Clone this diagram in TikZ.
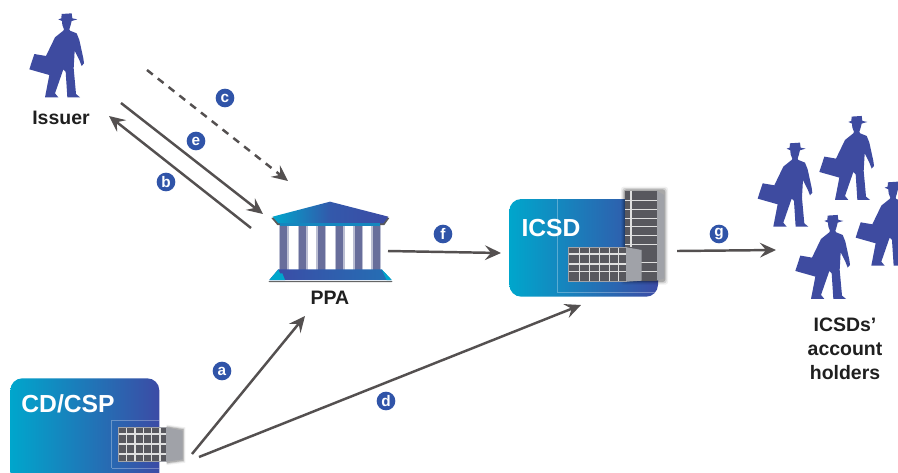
\documentclass[tikz,border=0pt]{standalone}
\usepackage{fontspec}
\setmainfont{Liberation Sans}
\usetikzlibrary{arrows.meta}
\definecolor{pblue}{RGB}{62,75,160}
\definecolor{bcyan}{RGB}{0,166,204}
\definecolor{bindigo}{RGB}{60,75,165}
\definecolor{badgeblue}{RGB}{48,84,168}
\definecolor{arrowgray}{RGB}{84,80,80}
\definecolor{wingray}{RGB}{88,88,94}
\definecolor{sidegray}{RGB}{160,162,168}
\definecolor{colgray}{RGB}{104,110,155}
\tikzset{
  link/.style={draw=arrowgray,line width=1.85pt,-{Stealth[length=12pt,width=11pt,inset=4.5pt]}},
  dashlink/.style={link,dash pattern=on 5.5pt off 4.8pt},
  badge/.style={circle,fill=badgeblue,text=white,font=\bfseries\fontsize{11.5}{11.5}\selectfont,inner sep=0pt,minimum size=14pt},
  lbl/.style={font=\bfseries\fontsize{14.6}{18}\selectfont,text=black!88,align=center,inner sep=0pt},
  cardlbl/.style={font=\bfseries\fontsize{18.5}{20}\selectfont,text=white,inner sep=0pt},
  card/.style={left color=bcyan,right color=bindigo,rounded corners=9pt},
  finegrid/.style={draw=white!75!gray,line width=.8pt},
  person/.pic={
    \fill[pblue,x=.25pt,y=-.25pt] (185,42)--(215,40)--(217,55)--(232,58)--(215,63)--(212,75)--(208,88)--(210,92)--(230,100)--(238,120)--(250,175)--(252,190)--(245,198)--(238,180)--(224,152)--(221,205)--(228,282)--(240,292)--(202,292)--(197,215)--(190,208)--(165,280)--(175,292)--(135,292)--(148,225)--(88,208)--(103,162)--(138,168)--(165,112)--(190,92)--(192,88)--(187,75)--(186,63)--(175,58)--(184,55)--cycle;
  }
}
\begin{document}
\begin{tikzpicture}[x=.75pt,y=-.75pt]
\useasboundingbox (0,0) rectangle (898,472);
\clip (0,0) rectangle (898,472);
\fill[white] (0,0) rectangle (898,472);

% people
\pic at (0,0) {person};
\pic at (728.3,129.3) {person};
\pic at (790,102.6) {person};
\pic at (826.3,168.3) {person};
\pic at (766,201.6) {person};
\node[lbl] (issuer) at (61,118) {Issuer};
\node[lbl] (holders) at (845,349) {ICSDs’\\account\\holders};

% PPA
\begin{scope}[shift={(250,170)},x=.25pt,y=-.25pt]
  \foreach \cx in {90,147,203,258,314,368}{
    \fill[colgray!45] (\cx-4,160) rectangle (\cx+26,300);
    \fill[colgray] (\cx,160) rectangle (\cx+22,300);
  }
  \fill[black!65] (64,144)--(240,99)--(418,144)--(403,165)--(82,165)--cycle;
  \shade[left color=bcyan,right color=bindigo,middle color=bindigo!85!bcyan] (68,140)--(240,95)--(415,140)--(400,160)--(85,160)--cycle;
  \fill[bcyan!65!bindigo] (90,158) rectangle (390,167);
  \fill[black!60] (55,333)--(428,333)--(425,336)--(58,336)--cycle;
  \shade[left color=bindigo,right color=bindigo!60!bcyan] (85,298)--(395,298)--(425,330)--(58,330)--cycle;
  \fill[bcyan] (85,298)--(90,310)--(97,310)--(105,330)--(58,330)--cycle;
  \fill[bcyan] (395,298)--(425,330)--(410,330)--cycle;
\end{scope}
\node[lbl] (ppa) at (330,298) {PPA};

% ICSD
\shade[card] (509.3,199) rectangle (658,296.7);
\draw[white,opacity=.3,line width=.6pt] (557,199)--(557,292.7)--(656,292.7);
\begin{scope}[shift={(490,170)},x=.25pt,y=-.25pt]
  \foreach \w/\o in {12/.06,8/.12,4/.2}{
    \fill[black,opacity=\o,rounded corners=2pt] (405-\w,62-\w) rectangle (522+\w,332+\w);
  }
  \fill[sidegray] (500,62)--(522,75)--(522,325)--(500,332)--cycle;
  \fill[wingray] (405,62) rectangle (500,332);
  \draw[finegrid] (423,62)--(423,232);
  \foreach \ty in {92,118,145,170,197,224,278,305}{
    \draw[finegrid] (405,\ty)--(500,\ty);
  }
  \fill[sidegray] (410,232)--(455,240)--(455,332)--(410,335)--cycle;
  \fill[wingray] (235,232) rectangle (410,335);
  \foreach \gx in {268,298,328,358,385}{\draw[finegrid] (\gx,232)--(\gx,335);}
  \foreach \gy in {252,282,305}{\draw[finegrid] (235,\gy)--(410,\gy);}
  \draw[sidegray,line width=1pt] (235,232) rectangle (410,335);
\end{scope}
\node[cardlbl] (icsd) at (551,228) {ICSD};

% CD/CSP
\shade[card] (10.3,378.3) rectangle (159.3,490);
\draw[white,opacity=.3,line width=.6pt] (111.7,468)--(111.7,420)--(159,420);
\draw[white,opacity=.3,line width=.6pt] (111.7,468)--(159,468);
\begin{scope}[shift={(0,370)},x=.25pt,y=-.25pt]
  \foreach \w/\o in {8/.06,5/.1,2.5/.18}{
    \fill[black,opacity=\o] (500,172-\w)--(548+\w,180-\w)--(548+\w,270+\w)--(500,277+\w)--cycle;
  }
  \fill[sidegray] (500,172)--(548,182)--(548,268)--(500,275)--cycle;
  \fill[wingray] (355,172) rectangle (500,275);
  \foreach \gx in {380,405,430,455,480}{\draw[finegrid] (\gx,172)--(\gx,275);}
  \foreach \gy in {192,222,252}{\draw[finegrid] (355,\gy)--(500,\gy);}
  \draw[sidegray,line width=1pt] (355,172) rectangle (500,275);
\end{scope}
\node[cardlbl] (cd) at (68,404) {CD/CSP};

% connector ends
\coordinate (cS) at (147,70);   \coordinate (cE) at (288,181);
\coordinate (eS) at (121,103);  \coordinate (eE) at (263,214);
\coordinate (bS) at (251,228);  \coordinate (bE) at (109,116);
\coordinate (fS) at (388,251);  \coordinate (fE) at (501,253);
\coordinate (gS) at (677,251);  \coordinate (gE) at (776,250);
\coordinate (aS) at (192,454);  \coordinate (aE) at (305,316);
\coordinate (dS) at (199,457);  \coordinate (dE) at (581,305);
\draw[dashlink] (cS)--(cE);
\draw[link] (eS)--(eE);
\draw[link] (bS)--(bE);
\draw[link] (fS)--(fE);
\draw[link] (gS)--(gE);
\draw[link] (aS)--(aE);
\draw[link] (dS)--(dE);

% badges
\node[badge] (ba) at (222,371) {a};
\node[badge] (bb) at (166,182) {b};
\node[badge] (bc) at (225,98) {c};
\node[badge] (bd) at (386,401) {d};
\node[badge] (be) at (196,141) {e};
\node[badge] (bf) at (443,234) {f};
\node[badge] (bg) at (719,234) {g};
\end{tikzpicture}
\end{document}
